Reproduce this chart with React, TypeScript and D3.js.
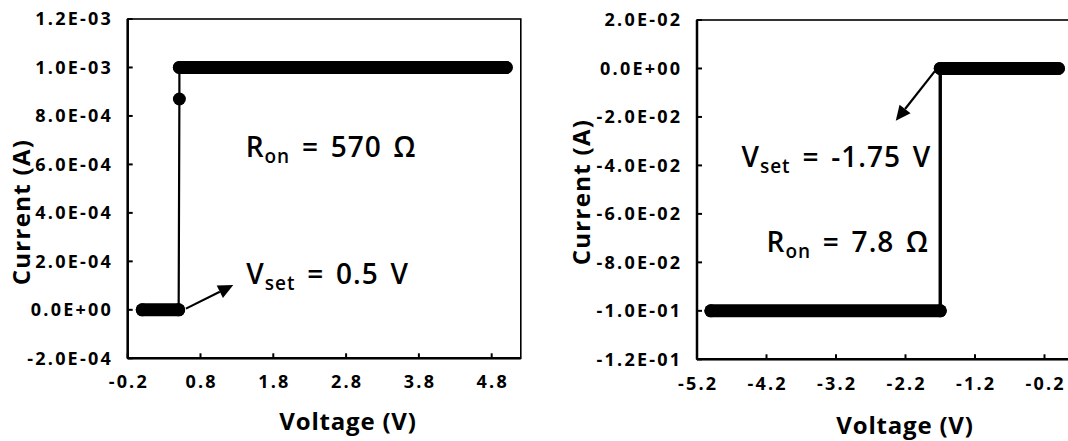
import React from "react";
import * as d3 from "d3";

// ---- Data ----
const leftVoltage = [0, 0.5, 0.51, 0.51, 5.0];
const leftCurrent = [0, 0, 8.7e-4, 1.0e-3, 1.0e-3];
const rightVoltage = [0, -1.7, -1.7, -5.0];
const rightCurrent = [0, 0, -0.1, -0.1];

const leftXTicks = [-0.2, 0.8, 1.8, 2.8, 3.8, 4.8];
const leftYTicks = [-2e-4, 0, 2e-4, 4e-4, 6e-4, 8e-4, 1e-3, 1.2e-3];
const rightXTicks = [-5.2, -4.2, -3.2, -2.2, -1.2, -0.2];
const rightYTicks = [-0.12, -0.1, -0.08, -0.06, -0.04, -0.02, 0, 0.02];

const FONT = "'Open Sans', 'Noto Sans', sans-serif";
const TICK_LS = 2.2;

function fmtE(v: number) {
  const s = (Math.abs(v) < 1e-12 ? 0 : v).toExponential(1).toUpperCase();
  return s.replace(/E([+-])(\d)$/, "E$10$2");
}

type Ann = { x: number; y: number; main: string; sub: string; rest: string };

type PanelProps = {
  x0: number; x1: number; y0: number; y1: number;
  xDomain: [number, number]; yDomain: [number, number];
  xTicks: number[]; yTicks: number[];
  vs: number[]; is: number[];
  arrow: [number, number, number, number];
  anns: Ann[];
  yTitle: [number, number];
  xTitle: [number, number];
  xLabelY: number;
  lineW: number;
};

function Panel(p: PanelProps) {
  const xs = d3.scaleLinear().domain(p.xDomain).range([p.x0, p.x1]);
  const ys = d3.scaleLinear().domain(p.yDomain).range([p.y1, p.y0]);
  const pts = p.vs.map((v, i) => [v, p.is[i]] as [number, number]);
  const line = d3.line<[number, number]>().x((d) => xs(d[0])).y((d) => ys(d[1]));
  const plateaus: [number, number][][] = [];
  for (let i = 1; i < pts.length; i++) {
    if (pts[i][1] === pts[i - 1][1]) plateaus.push([pts[i - 1], pts[i]]);
  }
  const [ax, ay, bx, by] = p.arrow;
  const sx = xs(ax), sy = ys(ay), tx = xs(bx), ty = ys(by);
  const ang = Math.atan2(ty - sy, tx - sx);
  const hl = 15, hw = 7;
  const bxp = tx - hl * Math.cos(ang), byp = ty - hl * Math.sin(ang);
  const head = [
    [tx, ty],
    [bxp + hw * Math.sin(ang), byp - hw * Math.cos(ang)],
    [bxp - hw * Math.sin(ang), byp + hw * Math.cos(ang)],
  ];
  return (
    <g>
      <rect x={p.x0} y={p.y0} width={p.x1 - p.x0} height={p.y1 - p.y0} fill="none" stroke="#000" strokeWidth={1.6} />
      <line x1={p.x0} x2={p.x0} y1={p.y0} y2={p.y1} stroke="#000" strokeWidth={2.5} />
      <line x1={p.x0} x2={p.x1} y1={p.y1} y2={p.y1} stroke="#000" strokeWidth={2.5} />
      {p.yTicks.map((t) => (
        <g key={"y" + t}>
          <line x1={p.x0} x2={p.x0 + 5} y1={ys(t)} y2={ys(t)} stroke="#000" strokeWidth={2} />
          <text x={p.x0 - 17 + TICK_LS} y={ys(t)} dy="0.36em" textAnchor="end" fontFamily={FONT} fontWeight={700} fontSize={18} letterSpacing={TICK_LS}>
            {fmtE(t)}
          </text>
        </g>
      ))}
      {p.xTicks.map((t) => (
        <g key={"x" + t}>
          <line x1={xs(t)} x2={xs(t)} y1={p.y1} y2={p.y1 - 5} stroke="#000" strokeWidth={2} />
          <text x={xs(t) + TICK_LS / 2} y={p.xLabelY} textAnchor="middle" fontFamily={FONT} fontWeight={700} fontSize={18} letterSpacing={TICK_LS}>
            {t.toFixed(1)}
          </text>
        </g>
      ))}
      <path d={line(pts) || ""} fill="none" stroke="#000" strokeWidth={p.lineW} />
      {plateaus.map((seg, i) => (
        <path key={"p" + i} d={line(seg) || ""} fill="none" stroke="#000" strokeWidth={13} strokeLinecap="round" />
      ))}
      {pts.map((d, i) => (
        <circle key={"c" + i} cx={xs(d[0])} cy={ys(d[1])} r={6.5} fill="#000" />
      ))}
      <line x1={sx} y1={sy} x2={bxp} y2={byp} stroke="#000" strokeWidth={2.2} />
      <polygon points={head.map((h) => h.join(",")).join(" ")} fill="#000" />
      {p.anns.map((a, i) => (
        <text key={"a" + i} x={xs(a.x)} y={ys(a.y)} fontFamily={FONT} fontWeight={600} fontSize={28} letterSpacing={1} wordSpacing={3.5}>
          {a.main}
          <tspan fontSize={19} dy={6}>{a.sub}</tspan>
          <tspan dy={-6}>{a.rest}</tspan>
        </text>
      ))}
      <text x={p.xTitle[0]} y={p.xTitle[1]} textAnchor="middle" fontFamily={FONT} fontWeight={700} fontSize={24} letterSpacing={0.8}>
        Voltage (V)
      </text>
      <text transform={`translate(${p.yTitle[0]},${p.yTitle[1]}) rotate(-90)`} textAnchor="middle" dy="0.35em" fontFamily={FONT} fontWeight={700} fontSize={24} letterSpacing={1.3}>
        Current (A)
      </text>
    </g>
  );
}

export default function App() {
  return (
    <svg width={1068} height={441} style={{ position: "absolute", left: 0, top: 0, background: "#fff" }}>
      <rect width={1068} height={441} fill="#fff" />
      <Panel
        x0={127.7} x1={520.8} y0={19} y1={358.3}
        xDomain={[-0.2, 5.2]} yDomain={[-2e-4, 1.2e-3]}
        xTicks={leftXTicks} yTicks={leftYTicks}
        vs={leftVoltage} is={leftCurrent}
        arrow={[0.6, 0.05e-4, 1.25, 1.02e-4]}
        anns={[
          { x: 1.42, y: 6.32e-4, main: "R", sub: "on", rest: " = 570 Ω" },
          { x: 1.43, y: 1.07e-4, main: "V", sub: "set", rest: " = 0.5 V" },
        ]}
        xTitle={[348, 430]} yTitle={[22, 212]} xLabelY={388}
        lineW={2.2}
      />
      <Panel
        x0={697} x1={1072.3} y0={20} y1={359.3}
        xDomain={[-5.2, 0.2]} yDomain={[-0.12, 0.02]}
        xTicks={rightXTicks} yTicks={rightYTicks}
        vs={rightVoltage} is={rightCurrent}
        arrow={[-1.78, -0.0012, -2.34, -0.0216]}
        anns={[
          { x: -4.56, y: -0.0408, main: "V", sub: "set", rest: " = -1.75 V" },
          { x: -4.2, y: -0.0758, main: "R", sub: "on", rest: " = 7.8 Ω" },
        ]}
        xTitle={[905, 434]} yTitle={[582, 192]} xLabelY={390}
        lineW={3.4}
      />
    </svg>
  );
}
